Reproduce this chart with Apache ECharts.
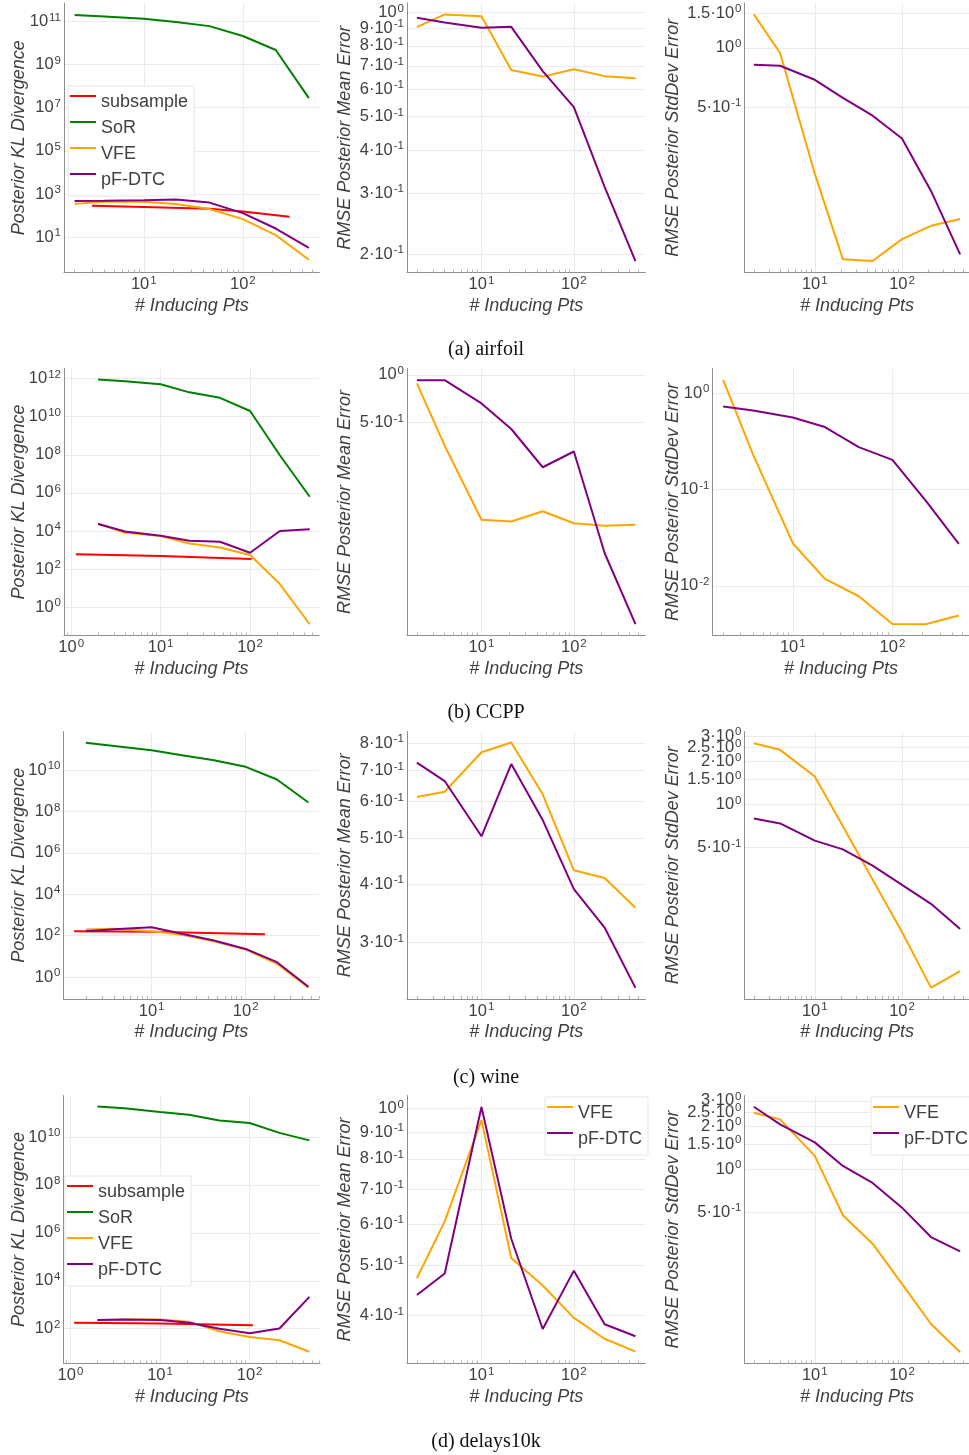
<!DOCTYPE html>
<html><head><meta charset="utf-8">
<script src="https://cdn.jsdelivr.net/npm/echarts@6/dist/echarts.min.js"></script>
<style>html,body{margin:0;padding:0;background:#fff}#c{width:969px;height:1455px}</style>
</head><body><div id="c"></div><script>
// ---------------- DATA ----------------
const inducingPts = [2, 4, 10, 21, 46, 100, 215, 464];

// (a) airfoil
const airfoilKL_subsampleX = [3, 10, 46, 100, 295];
const airfoilKL_subsample = [282, 251, 204, 155, 87];
const airfoilKL_SoR   = [1.95e11, 1.66e11, 1.32e11, 9.3e10, 6.0e10, 2.1e10, 4.7e9, 2.75e7];
const airfoilKL_VFE   = [347, 437, 437, 339, 200, 68, 12.3, 0.89];
const airfoilKL_pFDTC = [468, 479, 513, 550, 398, 129, 25, 3.2];
const airfoilMean_VFE   = [0.906, 0.986, 0.975, 0.681, 0.652, 0.685, 0.654, 0.645];
const airfoilMean_pFDTC = [0.965, 0.935, 0.902, 0.908, 0.676, 0.532, 0.313, 0.191];
const airfoilStd_VFE    = [1.48, 0.943, 0.230, 0.0845, 0.0828, 0.107, 0.125, 0.1355];
const airfoilStd_pFDTC  = [0.821, 0.812, 0.689, 0.558, 0.453, 0.347, 0.188, 0.0896];

// (b) CCPP
const ccppKL_subsampleX = [1.13, 10, 104];
const ccppKL_subsample = [603, 490, 339];
const ccppKL_SoR   = [8.9e11, 7.2e11, 5.0e11, 1.9e11, 9.8e10, 2.0e10, 9.5e7, 6.3e5];
const ccppKL_VFE   = [25100, 8130, 5500, 2240, 1380, 550, 16.6, 0.129];
const ccppKL_pFDTC = [23400, 9550, 5750, 3090, 2750, 724, 10000, 12300];
const ccppMean_VFE   = [0.882, 0.356, 0.121, 0.118, 0.137, 0.115, 0.111, 0.1125];
const ccppMean_pFDTC = [0.925, 0.925, 0.659, 0.454, 0.260, 0.327, 0.0745, 0.0264];
const ccppStd_VFE    = [1.37, 0.229, 0.0277, 0.0118, 0.0078, 0.00403, 0.0040, 0.00492];
const ccppStd_pFDTC  = [0.727, 0.66, 0.559, 0.444, 0.275, 0.203, 0.0769, 0.0273];

// (c) wine
const wineKL_subsampleX = [1.5, 10, 160];
const wineKL_subsample = [166, 155, 117];
const wineKL_SoR   = [2.14e11, 1.48e11, 9.1e10, 5.25e10, 3.0e10, 1.45e10, 3.55e9, 2.75e8];
const wineKL_VFE   = [200, 219, 166, 112, 53.7, 21.4, 4.37, 0.309];
const wineKL_pFDTC = [166, 204, 257, 123, 58.9, 22.9, 5.25, 0.339];
const wineMean_VFE   = [0.614, 0.630, 0.765, 0.803, 0.622, 0.428, 0.412, 0.356];
const wineMean_pFDTC = [0.727, 0.664, 0.506, 0.722, 0.548, 0.390, 0.323, 0.240];
const wineStd_VFE    = [2.68, 2.41, 1.57, 0.707, 0.300, 0.129, 0.0528, 0.0689];
const wineStd_pFDTC  = [0.80, 0.738, 0.560, 0.487, 0.375, 0.275, 0.203, 0.1355];

// (d) delays10k
const delaysKL_subsampleX = [1.1, 10, 109];
const delaysKL_subsample = [178, 166, 141];
const delaysKL_SoR   = [1.86e11, 1.58e11, 1.10e11, 8.5e10, 4.9e10, 3.8e10, 1.48e10, 7.2e9];
const delaysKL_VFE   = [224, 245, 245, 195, 79, 45, 33, 11];
const delaysKL_pFDTC = [229, 245, 229, 178, 100, 65, 102, 2140];
const delaysMean_VFE   = [0.472, 0.607, 0.950, 0.516, 0.457, 0.396, 0.361, 0.341];
const delaysMean_pFDTC = [0.438, 0.482, 1.007, 0.562, 0.377, 0.488, 0.385, 0.365];
const delaysStd_VFE    = [2.48, 2.23, 1.24, 0.477, 0.302, 0.158, 0.083, 0.0527];
const delaysStd_pFDTC  = [2.73, 2.06, 1.54, 1.055, 0.802, 0.539, 0.336, 0.267];

// tick values
const xTicks = [1, 10, 100];
const xMinorTicks = [0.9, 2, 3, 4, 5, 6, 7, 8, 9, 20, 30, 40, 50, 60, 70, 80, 90, 200, 300, 400, 500, 600, 700, 800, 900];
const klTicksOdd  = [1e1, 1e3, 1e5, 1e7, 1e9, 1e11];
const klTicksEven = [1e0, 1e2, 1e4, 1e6, 1e8, 1e10, 1e12];
const airfoilMeanTicks = [0.2, 0.3, 0.4, 0.5, 0.6, 0.7, 0.8, 0.9, 1.0];
const airfoilStdTicks  = [0.5, 1.0, 1.5];
const ccppMeanTicks = [0.5, 1.0];
const ccppStdTicks  = [0.01, 0.1, 1.0];
const wineMeanTicks = [0.3, 0.4, 0.5, 0.6, 0.7, 0.8];
const wineStdTicks  = [0.5, 1.0, 1.5, 2.0, 2.5, 3.0];
const delaysMeanTicks = [0.4, 0.5, 0.6, 0.7, 0.8, 0.9, 1.0];
const delaysStdTicks  = [0.5, 1.0, 1.5, 2.0, 2.5, 3.0];

const captions = ['(a) airfoil', '(b) CCPP', '(c) wine', '(d) delays10k'];

// ---------------- STYLE / LAYOUT ----------------
const FONT = '"Liberation Sans", Arial, Helvetica, sans-serif';
const TXT = '#404040';
const COL = {subsample: '#ff0000', SoR: '#008000', VFE: '#ffa500', 'pF-DTC': '#800080'};
const rowTop = [3, 368.5, 731.5, 1095.5];
const rowBottom = [272.5, 635.5, 999, 1363.5];
const capY = [340, 703, 1068, 1432];

function fmt(v) {
  const e = Math.floor(Math.log10(v) + 1e-9);
  const m = Math.round(v / Math.pow(10, e) * 10) / 10;
  return (m === 1 ? '' : m + '·') + '10{s|' + e + '}';
}
const RICH = {s: {fontSize: 11.5, fontFamily: FONT, color: TXT, verticalAlign: 'top', padding: [0, 0, 0, 1]}};

function S(name, x, y) { return {name, x, y}; }
const klNames = (sx, s, sor, vfe, pf) => [S('subsample', sx, s), S('SoR', inducingPts, sor), S('VFE', inducingPts, vfe), S('pF-DTC', inducingPts, pf)];
const twoNames = (vfe, pf) => [S('VFE', inducingPts, vfe), S('pF-DTC', inducingPts, pf)];

const panels = [
  // row 0
  {r:0, left:64, right:319.5, xr:[0.194,2.774], yr:[-0.64,11.85], yt:klTicksOdd, yn:'Posterior KL Divergence', gap:36,
   s: klNames(airfoilKL_subsampleX, airfoilKL_subsample, airfoilKL_SoR, airfoilKL_VFE, airfoilKL_pFDTC)},
  {r:0, left:407, right:645.4, xr:[0.194,2.774], yr:[-0.752,0.027], yt:airfoilMeanTicks, yn:'RMSE Posterior Mean Error', gap:53,
   s: twoNames(airfoilMean_VFE, airfoilMean_pFDTC)},
  {r:0, left:744.5, right:969.5, xr:[0.194,2.774], yr:[-1.14,0.228], yt:airfoilStdTicks, yn:'RMSE Posterior StdDev Error', gap:63,
   s: twoNames(airfoilStd_VFE, airfoilStd_pFDTC)},
  // row 1
  {r:1, left:64, right:319, xr:[-0.08,2.77], yr:[-1.48,12.53], yt:klTicksEven, yn:'Posterior KL Divergence', gap:36,
   s: klNames(ccppKL_subsampleX, ccppKL_subsample, ccppKL_SoR, ccppKL_VFE, ccppKL_pFDTC)},
  {r:1, left:407, right:645.4, xr:[0.194,2.774], yr:[-1.65,0.04], yt:ccppMeanTicks, yn:'RMSE Posterior Mean Error', gap:53,
   s: twoNames(ccppMean_VFE, ccppMean_pFDTC)},
  {r:1, left:712.5, right:969.5, xr:[0.194,2.774], yr:[-2.515,0.255], yt:ccppStdTicks, yn:'RMSE Posterior StdDev Error', gap:31,
   s: twoNames(ccppStd_VFE, ccppStd_pFDTC)},
  // row 2
  {r:2, left:63.5, right:319, xr:[0.064,2.779], yr:[-1.06,11.87], yt:klTicksEven, yn:'Posterior KL Divergence', gap:36,
   s: klNames(wineKL_subsampleX, wineKL_subsample, wineKL_SoR, wineKL_VFE, wineKL_pFDTC)},
  {r:2, left:407, right:645.4, xr:[0.194,2.774], yr:[-0.6436,-0.0719], yt:wineMeanTicks, yn:'RMSE Posterior Mean Error', gap:53,
   s: twoNames(wineMean_VFE, wineMean_pFDTC)},
  {r:2, left:744.5, right:969.5, xr:[0.194,2.774], yr:[-1.357,0.51], yt:wineStdTicks, yn:'RMSE Posterior StdDev Error', gap:63,
   s: twoNames(wineStd_VFE, wineStd_pFDTC)},
  // row 3
  {r:3, left:63.5, right:320, xr:[-0.077,2.785], yr:[0.55,11.73], yt:klTicksEven, yn:'Posterior KL Divergence', gap:36,
   s: klNames(delaysKL_subsampleX, delaysKL_subsample, delaysKL_SoR, delaysKL_VFE, delaysKL_pFDTC)},
  {r:3, left:407, right:645.4, xr:[0.194,2.774], yr:[-0.49,0.025], yt:delaysMeanTicks, yn:'RMSE Posterior Mean Error', gap:53,
   s: twoNames(delaysMean_VFE, delaysMean_pFDTC)},
  {r:3, left:744.5, right:969.5, xr:[0.194,2.774], yr:[-1.357,0.515], yt:delaysStdTicks, yn:'RMSE Posterior StdDev Error', gap:63,
   s: twoNames(delaysStd_VFE, delaysStd_pFDTC)}
];

const grid = [], xAxis = [], yAxis = [], series = [];
const nameStyle = {fontFamily: FONT, fontSize: 18, fontStyle: 'italic', color: TXT};
const labelBase = {formatter: fmt, rich: RICH, fontSize: 16.5, lineHeight: 20, color: TXT, fontFamily: FONT,
                   showMinLabel: true, showMaxLabel: true, hideOverlap: false};
const splitLine = {show: true, lineStyle: {color: '#ebebeb', width: 1}};
const axisLine = {show: true, onZero: false, lineStyle: {color: '#8f8f8f', width: 1}};
const noLine = {show: false};

panels.forEach((p, i) => {
  grid.push({left: p.left, top: rowTop[p.r], width: p.right - p.left, height: rowBottom[p.r] - rowTop[p.r],
             containLabel: false, outerBoundsMode: 'none'});
  const xmin = Math.pow(10, p.xr[0]), xmax = Math.pow(10, p.xr[1]);
  const ymin = Math.pow(10, p.yr[0]), ymax = Math.pow(10, p.yr[1]);
  // main x axis (labels + grid)
  xAxis.push({type: 'log', gridIndex: i, position: 'bottom', min: xmin, max: xmax,
    axisLine, splitLine,
    axisTick: {show: false, customValues: xTicks},
    axisLabel: Object.assign({customValues: xTicks, margin: 2}, labelBase),
    name: '# Inducing Pts', nameLocation: 'middle', nameGap: 24, nameMoveOverlap: false, nameTextStyle: nameStyle});
  // minor ticks on x
  xAxis.push({type: 'log', gridIndex: i, position: 'bottom', min: xmin, max: xmax,
    axisLine: noLine, splitLine: {show: false}, axisLabel: {show: false},
    axisTick: {show: true, inside: true, length: 3, customValues: xMinorTicks, lineStyle: {color: '#b5b5b5', width: 1}}});
  // y ticks split in two alternating sets so that close labels are all kept
  const ytA = p.yt.filter((v, k) => (p.yt.length - 1 - k) % 2 === 0);
  const ytB = p.yt.filter((v, k) => (p.yt.length - 1 - k) % 2 === 1);
  yAxis.push({type: 'log', gridIndex: i, position: 'left', min: ymin, max: ymax,
    axisLine, splitLine,
    axisTick: {show: false, customValues: ytA},
    axisLabel: Object.assign({customValues: ytA, margin: 3}, labelBase),
    name: p.yn, nameLocation: 'middle', nameGap: p.gap, nameMoveOverlap: false, nameTextStyle: nameStyle});
  yAxis.push({type: 'log', gridIndex: i, position: 'left', min: ymin, max: ymax,
    axisLine: noLine, splitLine: ytB.length ? splitLine : {show: false},
    axisTick: {show: false, customValues: ytB.length ? ytB : [ymax * 10]},
    axisLabel: ytB.length ? Object.assign({customValues: ytB, margin: 3}, labelBase) : {show: false}});
  p.s.forEach(s => {
    series.push({type: 'line', name: s.name, xAxisIndex: 2 * i, yAxisIndex: 2 * i, symbol: 'none', silent: true,
      lineStyle: {color: COL[s.name], width: 2}, itemStyle: {color: COL[s.name]},
      data: s.x.map((x, k) => [x, s.y[k]])});
  });
});

// legend icon: a 2px line drawn at the top of a 26x14 box
const LINE_ICON = 'path://M0,0H26V2H0Z M0,13.99H0.01V14H0Z';
function legendAt(left, top, names) {
  return {left, top, orient: 'vertical', data: names, icon: LINE_ICON, itemWidth: 26, itemHeight: 14, itemGap: 0,
    padding: [3, 6, 3, 2], backgroundColor: '#ffffff', borderColor: '#e6e6e6', borderWidth: 1, selectedMode: false,
    itemStyle: {borderWidth: 0},
    textStyle: {fontFamily: FONT, fontSize: 18, color: TXT, lineHeight: 26}};
}
const legend = [
  legendAt(68, 86, ['subsample', 'SoR', 'VFE', 'pF-DTC']),
  legendAt(65, 1176, ['subsample', 'SoR', 'VFE', 'pF-DTC']),
  legendAt(545, 1097, ['VFE', 'pF-DTC']),
  legendAt(871, 1097, ['VFE', 'pF-DTC'])
];

const title = captions.map((t, i) => ({text: t, left: 486, top: capY[i], textAlign: 'center', padding: 0,
  textStyle: {fontFamily: '"Liberation Serif", "Times New Roman", serif', fontSize: 20, fontWeight: 'normal', color: '#111'}}));

const chart = echarts.init(document.getElementById('c'), null, {renderer: 'canvas'});
chart.setOption({animation: false, backgroundColor: '#ffffff', title, legend, grid, xAxis, yAxis, series});
</script></body></html>
